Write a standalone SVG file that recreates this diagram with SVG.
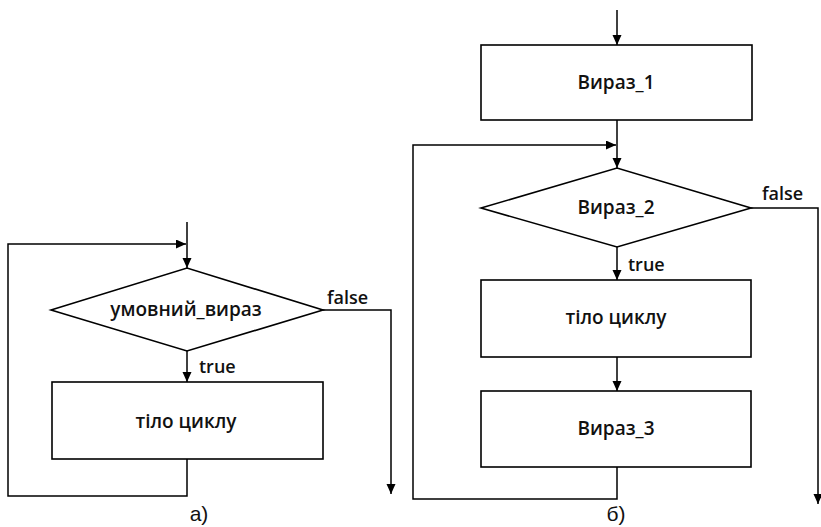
<svg xmlns="http://www.w3.org/2000/svg" width="821" height="527" viewBox="0 0 821 527">
  <defs>
    <marker id="arrow" markerUnits="userSpaceOnUse" markerWidth="11" markerHeight="10" refX="10" refY="4.5" orient="auto">
      <path d="M0,0 L10,4.5 L0,9 z" fill="#000"/>
    </marker>
    <style>
      .shape { fill: #fff; stroke: #000; stroke-width: 1.6; }
      .edge { fill: none; stroke: #000; stroke-width: 1.5; }
      .arr { marker-end: url(#arrow); }
      .lbl { font-family: "Open Sans", "Noto Sans", sans-serif; font-size: 19px; font-weight: 600; fill: #111; text-anchor: middle; }
      .tag { font-family: "Open Sans", "Noto Sans", sans-serif; font-size: 18px; font-weight: 600; fill: #111; }
      .cap { font-family: "Liberation Sans", Arial, sans-serif; font-size: 21px; fill: #111; text-anchor: middle; }
    </style>
  </defs>
  <rect width="821" height="527" fill="#fff"/>

  <!-- Flowchart (а): while loop -->
  <g id="connectors-a">
    <path class="edge arr" d="M187,222 V268"/>
    <path class="edge arr" d="M187,459 V496 H8 V244 H186"/>
    <path class="edge arr" d="M187,351 V382"/>
    <path class="edge arr" d="M323,310 H391 V494"/>
    <text class="tag" x="327" y="304">false</text>
    <text class="tag" x="199" y="373">true</text>
  </g>
  <g id="cond-a">
    <polygon class="shape" points="51,310 187,268 323,310 187,351"/>
    <text class="lbl" x="186" y="316">умовний_вираз</text>
  </g>
  <g id="body-a">
    <rect class="shape" x="52" y="382" width="271" height="77"/>
    <text class="lbl" x="186" y="428">тіло циклу</text>
  </g>
  <text class="cap" x="199" y="521">а)</text>

  <!-- Flowchart (б): for loop -->
  <g id="connectors-b">
    <path class="edge arr" d="M617,10 V45"/>
    <path class="edge arr" d="M617,120 V168"/>
    <path class="edge arr" d="M617,467 V499 H413 V145 H616"/>
    <path class="edge arr" d="M617,247 V280"/>
    <path class="edge arr" d="M617,357 V391"/>
    <path class="edge arr" d="M751,208 H818 V504"/>
    <text class="tag" x="762" y="200">false</text>
    <text class="tag" x="628" y="271">true</text>
  </g>
  <g id="init-b">
    <rect class="shape" x="481" y="45" width="271" height="75"/>
    <text class="lbl" x="616" y="89">Вираз_1</text>
  </g>
  <g id="cond-b">
    <polygon class="shape" points="481,208 617,168 751,208 617,247"/>
    <text class="lbl" x="616" y="214">Вираз_2</text>
  </g>
  <g id="body-b">
    <rect class="shape" x="481" y="280" width="270" height="77"/>
    <text class="lbl" x="616" y="324">тіло циклу</text>
  </g>
  <g id="step-b">
    <rect class="shape" x="481" y="391" width="270" height="76"/>
    <text class="lbl" x="616" y="435">Вираз_3</text>
  </g>
  <text class="cap" x="616" y="521">б)</text>
</svg>
